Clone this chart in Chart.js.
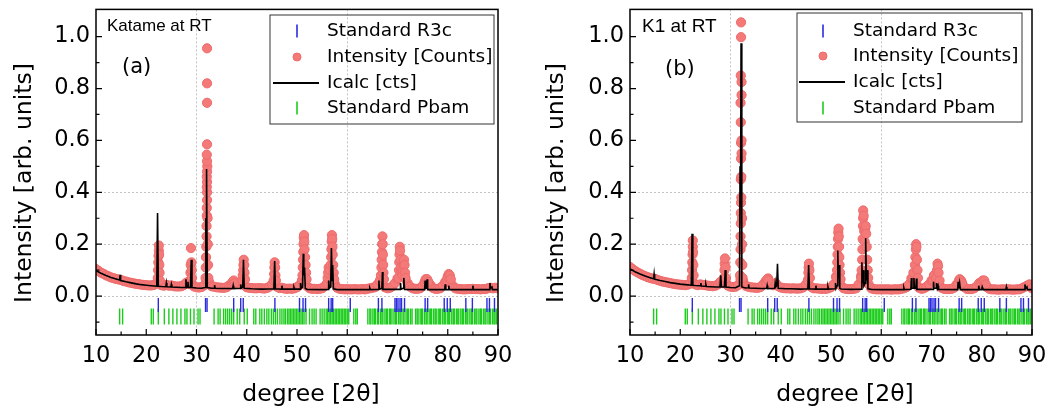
<!DOCTYPE html>
<html>
<head>
<meta charset="utf-8">
<script src="https://cdn.jsdelivr.net/npm/chart.js@4.4.1/dist/chart.umd.min.js"></script>
<style>
    html, body { margin: 0; padding: 0; background: #fff; }
    #wrap { position: relative; width: 1061px; height: 414px; }
    .panel { position: absolute; top: 0; height: 414px; }
    #panelA { left: 0; width: 530px; }
    #panelB { left: 530px; width: 531px; }
</style>
</head>
<body>
<div id="wrap">
    <div class="panel" id="panelA"><canvas id="chartA"></canvas></div>
    <div class="panel" id="panelB"><canvas id="chartB"></canvas></div>
</div>
<script>
// axis ticks
const xTicks = [10, 20, 30, 40, 50, 60, 70, 80, 90];
const xMinorTicks = [15, 25, 35, 45, 55, 65, 75, 85];
const yTicks = [0, 0.2, 0.4, 0.6, 0.8, 1.0];
const yMinorTicks = [-0.1, 0.1, 0.3, 0.5, 0.7, 0.9];
const xGridAt = [30, 60];
const yGridAt = [0, 0.2, 0.4];

const xTitle = "degree [2θ]";
const yTitle = "Intensity [arb. units]";
const seriesNames = ["Standard R3c", "Intensity [Counts]", "Icalc [cts]", "Standard Pbam"];

// observed scan, background part (start 10, step 0.5 deg)
const scanStart = 10, scanStep = 0.5;
const obsBgA = [
    0.104, 0.097, 0.090, 0.086, 0.080, 0.076, 0.072, 0.069, 0.066, 0.064,
    0.062, 0.058, 0.056, 0.053, 0.051, 0.049, 0.047, 0.046, 0.044, 0.043,
    0.042, 0.041, 0.041, 0.043, 0.048, 0.050, 0.042, 0.040, 0.043, 0.040,
    0.041, 0.038, 0.037, 0.037, 0.038, 0.043, 0.052, 0.046, 0.052, 0.037,
    0.034, 0.033, 0.035, 0.041, 0.060, 0.055, 0.038, 0.036, 0.034, 0.033,
    0.032, 0.032, 0.034, 0.041, 0.048, 0.052, 0.048, 0.045, 0.055, 0.042,
    0.034, 0.032, 0.031, 0.030, 0.030, 0.031, 0.030, 0.029, 0.031, 0.036,
    0.045, 0.058, 0.036, 0.031, 0.032, 0.029, 0.028, 0.029, 0.028, 0.030,
    0.034, 0.042, 0.060, 0.068, 0.038, 0.030, 0.028, 0.028, 0.027, 0.028,
    0.030, 0.038, 0.050, 0.070, 0.078, 0.048, 0.032, 0.028, 0.027, 0.026,
    0.027, 0.026, 0.026, 0.027, 0.026, 0.026, 0.027, 0.026, 0.028, 0.030,
    0.032, 0.034, 0.045, 0.058, 0.052, 0.034, 0.030, 0.032, 0.038, 0.050,
    0.068, 0.078, 0.085, 0.068, 0.050, 0.036, 0.030, 0.028, 0.028, 0.030,
    0.040, 0.052, 0.058, 0.045, 0.032, 0.028, 0.028, 0.030, 0.040, 0.055,
    0.072, 0.060, 0.040, 0.030, 0.028, 0.027, 0.026, 0.026, 0.027, 0.027,
    0.028, 0.027, 0.027, 0.026, 0.027, 0.027, 0.030, 0.032, 0.030, 0.032,
    0.030
];
const obsBgB = [
    0.112, 0.104, 0.097, 0.091, 0.086, 0.081, 0.077, 0.073, 0.070, 0.067,
    0.066, 0.062, 0.059, 0.056, 0.054, 0.052, 0.050, 0.048, 0.046, 0.045,
    0.044, 0.043, 0.042, 0.044, 0.048, 0.055, 0.045, 0.042, 0.045, 0.043,
    0.042, 0.040, 0.039, 0.038, 0.040, 0.045, 0.055, 0.050, 0.058, 0.040,
    0.036, 0.035, 0.036, 0.042, 0.065, 0.058, 0.040, 0.036, 0.034, 0.033,
    0.032, 0.032, 0.035, 0.045, 0.058, 0.068, 0.050, 0.042, 0.050, 0.038,
    0.033, 0.031, 0.030, 0.030, 0.029, 0.030, 0.029, 0.029, 0.030, 0.034,
    0.045, 0.065, 0.036, 0.030, 0.030, 0.029, 0.028, 0.028, 0.028, 0.030,
    0.034, 0.045, 0.075, 0.078, 0.040, 0.030, 0.028, 0.027, 0.027, 0.028,
    0.030, 0.045, 0.078, 0.088, 0.068, 0.045, 0.030, 0.027, 0.026, 0.026,
    0.026, 0.026, 0.026, 0.026, 0.025, 0.026, 0.026, 0.026, 0.028, 0.030,
    0.034, 0.045, 0.068, 0.068, 0.045, 0.032, 0.028, 0.030, 0.036, 0.045,
    0.060, 0.078, 0.068, 0.045, 0.032, 0.028, 0.027, 0.027, 0.028, 0.032,
    0.045, 0.060, 0.050, 0.035, 0.028, 0.027, 0.027, 0.030, 0.038, 0.050,
    0.055, 0.050, 0.035, 0.028, 0.026, 0.026, 0.025, 0.025, 0.026, 0.026,
    0.026, 0.026, 0.025, 0.025, 0.026, 0.026, 0.030, 0.035, 0.040, 0.045,
    0.030
];

// observed scan, points on the Bragg peaks [2theta, intensity]
const obsPeaksA = [
    [22.3,0.07],[22.35,0.10],[22.4,0.13],[22.45,0.155],[22.5,0.175],[22.5,0.195],[22.55,0.16],[22.6,0.12],[22.65,0.09],[22.7,0.06],
    [28.7,0.06],[28.8,0.09],[28.85,0.12],[28.9,0.185],[29.0,0.13],[29.05,0.10],[29.1,0.07],
    [31.8,0.07],[31.85,0.11],[31.9,0.15],[31.95,0.19],[32.0,0.23],[32.0,0.27],[32.05,0.31],[32.05,0.34],[32.1,0.37],[32.1,0.40],
    [32.05,0.42],[32.1,0.44],[32.05,0.46],[32.1,0.48],[32.15,0.50],[32.1,0.52],[32.05,0.545],[32.1,0.585],[32.1,0.745],[32.1,0.82],
    [32.1,0.955],[32.2,0.30],[32.25,0.20],[32.3,0.12],[32.35,0.07],
    [37.0,0.045],[37.2,0.055],[37.4,0.06],[37.6,0.05],
    [39.1,0.06],[39.2,0.08],[39.3,0.10],[39.35,0.12],[39.4,0.14],[39.5,0.12],[39.55,0.09],[39.65,0.065],
    [45.35,0.06],[45.45,0.085],[45.5,0.11],[45.55,0.13],[45.65,0.11],[45.7,0.08],[45.8,0.06],
    [51.0,0.06],[51.1,0.08],[51.15,0.11],[51.2,0.14],[51.25,0.17],[51.3,0.20],[51.35,0.225],[51.4,0.235],[51.45,0.21],[51.5,0.18],
    [51.6,0.15],[51.7,0.12],[51.8,0.09],[51.9,0.065],
    [56.1,0.07],[56.2,0.09],[56.3,0.11],[56.5,0.10],[56.7,0.12],[56.8,0.15],[56.85,0.18],[56.9,0.21],[56.95,0.235],[57.0,0.22],
    [57.05,0.19],[57.1,0.16],[57.2,0.12],[57.3,0.09],[57.4,0.065],
    [66.5,0.06],[66.7,0.08],[66.8,0.11],[66.85,0.14],[66.9,0.17],[66.95,0.20],[67.0,0.23],[67.05,0.20],[67.1,0.16],[67.15,0.12],
    [67.2,0.09],[67.3,0.065],
    [70.2,0.07],[70.3,0.10],[70.35,0.13],[70.4,0.16],[70.45,0.19],[70.5,0.175],[70.6,0.14],[70.7,0.11],[70.8,0.09],
    [71.0,0.08],[71.1,0.10],[71.2,0.12],[71.3,0.14],[71.4,0.12],[71.5,0.09],[71.6,0.07],
    [75.4,0.055],[75.6,0.065],[75.9,0.065],[76.1,0.055],
    [79.8,0.06],[80.0,0.075],[80.2,0.085],[80.4,0.08],[80.6,0.065]
];
const obsPeaksB = [
    [22.3,0.07],[22.35,0.10],[22.4,0.13],[22.45,0.16],[22.5,0.19],[22.5,0.214],[22.55,0.17],[22.6,0.12],[22.65,0.08],
    [28.7,0.07],[28.8,0.10],[28.85,0.125],[28.9,0.145],[29.0,0.11],[29.1,0.07],
    [31.9,0.08],[31.95,0.13],[32.0,0.18],[32.0,0.23],[32.05,0.28],[32.05,0.32],[32.1,0.36],[32.15,0.38],[32.05,0.45],[32.15,0.46],
    [32.1,0.53],[32.2,0.55],[32.1,0.59],[32.2,0.60],[32.05,0.67],[32.0,0.745],[32.2,0.775],[32.2,0.825],[32.05,0.85],[32.1,0.998],
    [32.1,1.055],[32.3,0.30],[32.3,0.20],[32.35,0.12],[32.4,0.07],
    [37.1,0.05],[37.3,0.065],[37.5,0.06],
    [45.4,0.06],[45.5,0.09],[45.55,0.11],[45.6,0.125],[45.7,0.10],[45.8,0.07],
    [51.1,0.07],[51.2,0.10],[51.25,0.13],[51.3,0.16],[51.35,0.19],[51.4,0.22],[51.45,0.245],[51.5,0.26],[51.55,0.23],[51.6,0.19],
    [51.65,0.15],[51.7,0.12],[51.8,0.09],[51.9,0.065],
    [56.0,0.07],[56.1,0.10],[56.2,0.14],[56.25,0.18],[56.3,0.22],[56.35,0.27],[56.4,0.30],[56.4,0.33],[56.5,0.31],[56.6,0.25],
    [56.7,0.21],[56.8,0.26],[56.9,0.27],[57.0,0.24],[57.1,0.19],[57.2,0.14],[57.3,0.10],[57.4,0.07],
    [66.2,0.07],[66.4,0.09],[66.7,0.12],[66.8,0.15],[66.9,0.18],[66.95,0.20],[67.0,0.19],[67.1,0.14],[67.2,0.10],[67.3,0.07],
    [70.3,0.06],[70.5,0.08],[70.9,0.07],[71.1,0.10],[71.2,0.125],[71.3,0.115],[71.4,0.09],[71.6,0.06],
    [75.3,0.05],[75.6,0.065],[75.9,0.06],[76.1,0.05],
    [79.9,0.05],[80.2,0.06],[80.5,0.06],[80.8,0.045]
];

// calculated profile [2theta, intensity]
const calcA = [
    [10,0.098],[11,0.088],[12,0.079],[13,0.072],[14,0.066],[14.7,0.062],[14.8,0.082],[14.9,0.060],[16,0.055],[17,0.051],
    [18,0.047],[19,0.044],[20,0.042],[21,0.040],[22.1,0.038],[22.25,0.32],[22.4,0.038],[23,0.037],[23.9,0.036],[24.0,0.05],
    [24.1,0.036],[24.9,0.035],[25.0,0.045],[25.1,0.035],[26,0.034],[27,0.033],[27.8,0.033],[27.9,0.065],[28.0,0.033],[28.2,0.035],
    [28.3,0.055],[28.4,0.033],[28.8,0.033],[28.95,0.14],[29.1,0.033],[30,0.031],[31,0.030],[31.75,0.033],[31.85,0.30],[31.9,0.10],
    [31.95,0.45],[32.0,0.20],[32.05,0.49],[32.15,0.033],[33,0.030],[33.5,0.030],[33.6,0.042],[33.7,0.030],[35,0.029],[36,0.029],
    [37.2,0.029],[37.3,0.04],[37.4,0.029],[38.7,0.030],[38.8,0.045],[38.9,0.030],[39.2,0.035],[39.35,0.14],[39.5,0.030],[41,0.028],
    [43,0.027],[45.4,0.028],[45.55,0.135],[45.7,0.028],[46.9,0.027],[47.0,0.04],[47.1,0.027],[49.3,0.027],[49.4,0.033],[49.5,0.027],
    [50.6,0.027],[50.7,0.05],[50.8,0.030],[51.1,0.035],[51.25,0.163],[51.35,0.08],[51.5,0.11],[51.65,0.030],[52,0.026],[55,0.025],
    [56.2,0.026],[56.3,0.06],[56.4,0.030],[56.7,0.035],[56.85,0.185],[57.0,0.06],[57.1,0.12],[57.25,0.028],[58,0.025],[60,0.025],
    [64,0.025],[64.4,0.025],[64.5,0.030],[64.6,0.025],[66.2,0.026],[66.3,0.06],[66.4,0.026],[66.9,0.030],[67.0,0.093],[67.1,0.026],
    [70.5,0.026],[70.6,0.05],[70.7,0.026],[71.1,0.030],[71.25,0.07],[71.4,0.026],[75.4,0.025],[75.5,0.06],[75.6,0.030],[75.8,0.030],
    [75.9,0.065],[76.0,0.025],[79.4,0.025],[79.5,0.045],[79.6,0.025],[80.1,0.025],[80.2,0.04],[80.3,0.025],[84.9,0.025],[85.0,0.04],
    [85.1,0.025],[88.3,0.025],[88.4,0.05],[88.5,0.030],[88.8,0.035],[88.9,0.025],[90,0.025]
];
const calcB = [
    [10,0.105],[11,0.094],[12,0.085],[13,0.077],[14,0.071],[14.7,0.067],[14.8,0.085],[14.9,0.065],[16,0.060],[17,0.056],
    [18,0.052],[19,0.049],[20,0.046],[21,0.044],[22.2,0.042],[22.35,0.24],[22.5,0.042],[23,0.041],[24,0.040],[24.1,0.05],
    [24.2,0.039],[25,0.038],[25.1,0.045],[25.2,0.037],[26,0.036],[27,0.035],[27.9,0.035],[28.05,0.08],[28.2,0.036],[28.8,0.035],
    [28.95,0.10],[29.1,0.035],[30,0.033],[31,0.032],[31.8,0.040],[31.9,0.50],[32.0,0.35],[32.1,0.975],[32.25,0.035],[33,0.031],
    [33.5,0.032],[33.6,0.045],[33.7,0.031],[35,0.030],[36,0.029],[37.2,0.029],[37.3,0.04],[37.4,0.029],[38.8,0.030],[38.9,0.05],
    [39.0,0.035],[39.2,0.04],[39.35,0.125],[39.5,0.030],[41,0.028],[42,0.028],[44,0.027],[45.4,0.028],[45.55,0.12],[45.7,0.028],
    [46.9,0.027],[47.0,0.04],[47.1,0.027],[49.3,0.027],[49.4,0.035],[49.5,0.027],[50.8,0.028],[50.9,0.05],[51.0,0.030],[51.2,0.04],
    [51.35,0.176],[51.45,0.09],[51.6,0.12],[51.75,0.030],[52,0.027],[54,0.026],[56.0,0.027],[56.15,0.13],[56.25,0.05],[56.4,0.10],
    [56.55,0.04],[56.8,0.05],[56.9,0.223],[57.05,0.06],[57.2,0.10],[57.35,0.028],[58,0.026],[60,0.025],[62,0.025],[64,0.025],
    [64.4,0.025],[64.5,0.032],[64.6,0.025],[65.9,0.026],[66.0,0.07],[66.1,0.030],[66.4,0.030],[66.5,0.07],[66.6,0.030],[66.9,0.030],
    [67.0,0.068],[67.1,0.026],[70,0.026],[70.3,0.026],[70.4,0.055],[70.5,0.030],[70.9,0.030],[71.0,0.05],[71.15,0.030],[71.3,0.04],
    [71.4,0.026],[75.2,0.025],[75.3,0.055],[75.45,0.030],[75.6,0.05],[75.75,0.025],[79.3,0.025],[79.4,0.04],[79.5,0.025],[80.0,0.025],
    [80.1,0.035],[80.3,0.025],[84.8,0.025],[84.9,0.035],[85.0,0.025],[88.5,0.025],[88.6,0.045],[88.75,0.030],[89.0,0.035],[89.1,0.025],
    [90,0.025]
];

// reflection positions of the two standards (2theta)
const r3cTicks = [22.4, 31.8, 32.1, 37.4, 38.8, 39.3, 45.6, 50.5, 51.2, 51.7, 56.3, 56.8, 57.1, 60.6, 66.2, 66.9,
    69.5, 69.8, 70.1, 70.5, 70.8, 71.4, 75.5, 76.0, 79.3, 79.9, 80.5, 83.6, 84.9, 87.8, 88.3, 89.3];
const pbamTicks = [14.7, 15.3, 21.0, 21.4, 22.4, 23.6, 24.5, 25.3, 26.1, 26.9, 27.7, 28.1, 28.8, 29.5, 30.3, 30.7,
    33.5, 34.3, 34.7, 35.4, 35.8, 36.2, 36.6, 37.0, 37.4, 38.1, 38.6, 39.5, 40.1, 41.4, 41.8, 42.6, 43.0, 43.5,
    44.0, 44.4, 44.9, 45.3, 45.7, 46.1, 46.6, 47.0, 47.4, 47.7, 48.1, 48.4, 48.7, 49.0, 49.3, 49.6, 49.9, 50.2,
    50.5, 50.8, 51.1, 51.4, 51.8, 52.5, 53.0, 53.4, 53.8, 54.6, 55.0, 55.4, 55.8, 56.1, 56.4, 56.7, 57.0, 57.3,
    57.6, 57.9, 58.2, 58.5, 58.8, 59.1, 59.4, 59.7, 60.0, 60.3, 61.3, 61.7, 62.0,
    64.1, 64.5, 64.7, 65.1, 65.4, 65.6, 66.0, 66.2, 66.6, 66.9, 67.1, 67.5, 67.8, 68.0, 68.4, 68.6, 68.9, 69.3,
    69.6, 69.8, 70.2, 70.5, 70.7, 71.1, 71.3, 71.7, 72.0, 72.2, 72.6, 72.9, 73.6, 73.9, 74.1, 74.5, 74.8, 75.0,
    75.4, 75.7, 75.9, 76.3, 76.6, 76.8, 77.2, 77.5, 77.7, 78.1, 78.4, 78.6, 79.0, 79.3, 79.5, 79.9, 80.2, 80.4,
    80.8, 81.1, 81.3, 81.7, 82.0, 82.2, 82.6, 82.9, 83.1, 83.5, 83.8, 84.0, 84.4, 84.7, 84.9, 85.3, 85.6, 85.8,
    86.2, 86.5, 86.7, 87.1, 87.4, 87.6, 88.0, 88.3, 88.5, 88.9, 89.2, 89.4, 89.7];

const BLUE = "#2a2ae0";
const GREEN = "#1ccc1c";
const DOT_FILL = "#f47a7a";
const DOT_EDGE = "#ee6a6a";
const FONT = '"DejaVu Sans", "Liberation Sans", sans-serif';

// draws frame, inward ticks, axis titles, labels and the boxed legend
const panelDecor = {
    id: "panelDecor",
    afterDraw(chart, args, o) {
        const { ctx, chartArea: a, scales: { x, y } } = chart;
        ctx.save();

        ctx.strokeStyle = "#000";
        ctx.lineWidth = 1.5;
        ctx.strokeRect(a.left, a.top, a.right - a.left, a.bottom - a.top);

        ctx.lineWidth = 1.2;
        ctx.beginPath();
        xTicks.forEach(v => { const p = x.getPixelForValue(v); ctx.moveTo(p, a.bottom); ctx.lineTo(p, a.bottom - 6); });
        xMinorTicks.forEach(v => { const p = x.getPixelForValue(v); ctx.moveTo(p, a.bottom); ctx.lineTo(p, a.bottom - 3.5); });
        yTicks.forEach(v => { const p = y.getPixelForValue(v); ctx.moveTo(a.left, p); ctx.lineTo(a.left + 6, p); });
        yMinorTicks.forEach(v => { const p = y.getPixelForValue(v); ctx.moveTo(a.left, p); ctx.lineTo(a.left + 3.5, p); });
        ctx.stroke();

        ctx.fillStyle = "#000";
        ctx.textAlign = "center";
        ctx.textBaseline = "middle";
        ctx.font = "23.5px " + FONT;
        ctx.fillText(xTitle, o.xTitle[0], o.xTitle[1]);
        ctx.save();
        ctx.translate(o.yTitle[0], o.yTitle[1]);
        ctx.rotate(-Math.PI / 2);
        ctx.fillText(yTitle, 0, 0);
        ctx.restore();

        ctx.textAlign = "left";
        ctx.font = o.sampleFont;
        ctx.fillText(o.sample, o.samplePos[0], o.samplePos[1]);
        ctx.font = "21px " + FONT;
        ctx.fillText(o.tag, o.tagPos[0], o.tagPos[1]);

        // legend
        const L = o.legend;
        ctx.lineWidth = 1;
        ctx.strokeStyle = "#333";
        ctx.strokeRect(L.x, L.y, L.w, L.h);
        const sx = L.x + L.sym;
        const tx = L.x + L.text;
        ctx.font = "18.5px " + FONT;
        seriesNames.forEach((name, i) => {
            const ry = L.y + L.rows[i];
            ctx.fillStyle = "#000";
            ctx.fillText(name, tx, ry);
            if (i === 0 || i === 3) {
                ctx.strokeStyle = i === 0 ? BLUE : GREEN;
                ctx.lineWidth = 1.6;
                ctx.beginPath(); ctx.moveTo(sx, ry - 6.5); ctx.lineTo(sx, ry + 6.5); ctx.stroke();
            } else if (i === 1) {
                ctx.fillStyle = DOT_FILL;
                ctx.strokeStyle = DOT_EDGE;
                ctx.lineWidth = 1;
                ctx.beginPath(); ctx.arc(sx, ry, 4, 0, Math.PI * 2); ctx.fill(); ctx.stroke();
            } else {
                ctx.strokeStyle = "#000";
                ctx.lineWidth = 2;
                ctx.beginPath(); ctx.moveTo(sx - 24, ry); ctx.lineTo(sx + 22, ry); ctx.stroke();
            }
        });
        ctx.restore();
    }
};

function toXY(pairs) {
    return pairs.map(p => ({ x: p[0], y: p[1] }));
}

function makePanel(id, bg, peaks, calc, deco, yWidth, padRight) {
    const obs = bg.map((v, i) => ({ x: scanStart + i * scanStep, y: v })).concat(toXY(peaks));
    return new Chart(document.getElementById(id), {
        type: "scatter",
        data: {
            datasets: [
                { label: seriesNames[2], data: toXY(calc), showLine: true, borderColor: "#000", borderWidth: 1.6,
                  pointRadius: 0, order: 0 },
                { label: seriesNames[1], data: obs, pointRadius: 4.6, backgroundColor: DOT_FILL, borderColor: DOT_EDGE,
                  borderWidth: 1, order: 1 },
                { label: seriesNames[0], data: r3cTicks.map(v => ({ x: v, y: -0.034 })), pointStyle: "line", rotation: 90,
                  pointRadius: 7, borderColor: BLUE, borderWidth: 1.4, order: 2 },
                { label: seriesNames[3], data: pbamTicks.map(v => ({ x: v, y: -0.079 })), pointStyle: "line", rotation: 90,
                  pointRadius: 8, borderColor: GREEN, borderWidth: 1.4, order: 3 }
            ]
        },
        options: {
            responsive: true,
            maintainAspectRatio: false,
            devicePixelRatio: 1,
            animation: false,
            events: [],
            layout: { padding: { top: 7, right: padRight, left: 0, bottom: 0 } },
            plugins: { legend: { display: false }, tooltip: { enabled: false }, panelDecor: deco },
            scales: {
                x: {
                    type: "linear", min: 10, max: 90,
                    afterBuildTicks: s => { s.ticks = xTicks.map(v => ({ value: v })); },
                    afterFit: s => { s.height = 79; s.paddingLeft = 0; s.paddingRight = 0; },
                    ticks: { font: { family: FONT, size: 22.5 }, color: "#000", padding: 8, maxRotation: 0, autoSkip: false },
                    grid: { drawTicks: false, lineWidth: 1,
                            color: c => (c.tick && xGridAt.includes(c.tick.value)) ? "#c4c4c4" : "rgba(0,0,0,0)" },
                    border: { display: false, dash: [2, 2] }
                },
                y: {
                    min: -0.15, max: 1.105,
                    afterBuildTicks: s => { s.ticks = yTicks.map(v => ({ value: v })); },
                    afterFit: s => { s.width = yWidth; s.paddingTop = 0; s.paddingBottom = 0; },
                    ticks: { font: { family: FONT, size: 22.5 }, color: "#000", padding: 6, callback: v => v.toFixed(1) },
                    grid: { drawTicks: false, lineWidth: 1,
                            color: c => (c.tick && yGridAt.some(g => Math.abs(g - c.tick.value) < 1e-6)) ? "#c4c4c4" : "rgba(0,0,0,0)" },
                    border: { display: false, dash: [2, 2] }
                }
            }
        },
        plugins: [panelDecor]
    });
}

makePanel("chartA", obsBgA, obsPeaksA, calcA, {
    xTitle: [311, 395], yTitle: [25, 183],
    sample: "Katame at RT", sampleFont: '17px "Liberation Sans", Arial, sans-serif', samplePos: [107, 26],
    tag: "(a)", tagPos: [122, 68],
    legend: { x: 270, y: 15, w: 224, h: 109, sym: 27, text: 57, rows: [16, 42, 68, 93] }
}, 96, 32);

makePanel("chartB", obsBgB, obsPeaksB, calcB, {
    xTitle: [315, 395], yTitle: [27, 183],
    sample: "K1 at RT", sampleFont: '19px "Liberation Sans", Arial, sans-serif', samplePos: [112, 27],
    tag: "(b)", tagPos: [135, 70],
    legend: { x: 267, y: 13, w: 225, h: 109, sym: 26, text: 56, rows: [18, 43, 69, 95] }
}, 100, 29);
</script>
</body>
</html>
